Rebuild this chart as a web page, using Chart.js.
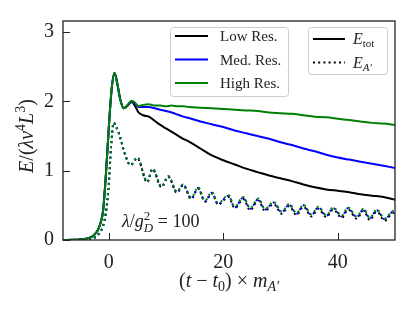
<!DOCTYPE html>
<html>
<head>
<meta charset="utf-8">
<script src="https://cdn.jsdelivr.net/npm/chart.js@4.4.0/dist/chart.umd.min.js"></script>
<style>
  html, body { margin: 0; padding: 0; background: #fff; }
  #wrap { width: 415px; height: 312px; }
</style>
</head>
<body>
<div id="wrap"><canvas id="energy-chart" width="415" height="312"></canvas></div>
<script>
// time grid for the E_tot curves
const tTot = [-8, -6, -5, -4, -3, -2.5, -2, -1.5, -1, -0.5,
    0, 0.5, 1, 1.5, 2, 2.6, 3.2, 4, 4.6, 5.2,
    6, 7, 8, 9, 10, 11, 12, 13, 14, 16,
    18, 20, 22, 24, 26, 28, 30, 32, 34, 36,
    38, 40, 42, 44, 46, 48, 50];

const lowTot = [0, 0.003, 0.008, 0.02, 0.045, 0.08, 0.13, 0.23, 0.42, 0.95,
    1.62, 2.18, 2.41, 2.25, 2.03, 1.90, 1.93, 1.99, 1.93, 1.84,
    1.80, 1.78, 1.72, 1.66, 1.61, 1.56, 1.51, 1.46, 1.42, 1.32,
    1.22, 1.15, 1.09, 1.03, 0.98, 0.93, 0.89, 0.85, 0.80, 0.76,
    0.73, 0.71, 0.69, 0.66, 0.64, 0.62, 0.58];

const medTot = [0, 0.003, 0.008, 0.02, 0.045, 0.08, 0.13, 0.23, 0.42, 0.95,
    1.62, 2.18, 2.41, 2.25, 2.03, 1.90, 1.94, 2.00, 1.96, 1.92,
    1.92, 1.92, 1.90, 1.88, 1.86, 1.84, 1.81, 1.78, 1.76, 1.71,
    1.67, 1.63, 1.58, 1.54, 1.50, 1.46, 1.41, 1.37, 1.32, 1.28,
    1.23, 1.19, 1.16, 1.13, 1.10, 1.07, 1.04];

const highTot = [0, 0.003, 0.008, 0.02, 0.045, 0.08, 0.13, 0.23, 0.42, 0.95,
    1.62, 2.18, 2.41, 2.25, 2.03, 1.90, 1.94, 2.01, 1.98, 1.93,
    1.95, 1.96, 1.94, 1.94, 1.93, 1.94, 1.93, 1.93, 1.92, 1.91,
    1.90, 1.89, 1.88, 1.87, 1.86, 1.84, 1.83, 1.82, 1.80, 1.78,
    1.77, 1.75, 1.73, 1.71, 1.69, 1.68, 1.66];

// time grid for the E_A' curves (peaks and troughs of the oscillation)
const tA = [-8, -5, -4, -3, -2.5, -2, -1.5, -1, -0.5, 0,
    0.4, 0.85, 1.3, 1.8, 2.3, 2.9, 3.8, 5.0, 6.7, 7.65,
    9.2, 10.4, 11.9, 13, 14.4, 15.6, 16.8, 18, 19.1, 20.9,
    22, 23.5, 24.7, 26.1, 27.3, 28.8, 30.2, 31.5, 32.8, 34,
    35.4, 36.6, 38, 39.2, 40.7, 41.8, 43.3, 44.5, 45.6, 46.8,
    48.2, 49.7, 50];

const lowA = [0, 0.002, 0.006, 0.02, 0.035, 0.06, 0.12, 0.2, 0.40, 0.80,
    1.35, 1.69, 1.63, 1.53, 1.39, 1.22, 1.08, 1.18, 0.83, 1.02,
    0.76, 0.91, 0.68, 0.79, 0.59, 0.74, 0.55, 0.67, 0.51, 0.62,
    0.46, 0.59, 0.43, 0.57, 0.42, 0.52, 0.38, 0.49, 0.36, 0.48,
    0.34, 0.45, 0.33, 0.44, 0.32, 0.44, 0.31, 0.42, 0.29, 0.41,
    0.28, 0.39, 0.37];

const medA = [0, 0.002, 0.006, 0.02, 0.035, 0.06, 0.12, 0.2, 0.40, 0.80,
    1.35, 1.69, 1.63, 1.53, 1.39, 1.22, 1.08, 1.19, 0.84, 1.03,
    0.77, 0.92, 0.69, 0.80, 0.60, 0.75, 0.56, 0.68, 0.52, 0.64,
    0.47, 0.61, 0.45, 0.59, 0.44, 0.54, 0.40, 0.51, 0.38, 0.50,
    0.36, 0.47, 0.35, 0.46, 0.34, 0.46, 0.33, 0.44, 0.31, 0.43,
    0.30, 0.41, 0.39];

const highA = [0, 0.002, 0.006, 0.02, 0.035, 0.06, 0.12, 0.2, 0.40, 0.80,
    1.35, 1.69, 1.63, 1.53, 1.39, 1.22, 1.08, 1.19, 0.84, 1.03,
    0.77, 0.92, 0.70, 0.80, 0.61, 0.76, 0.57, 0.69, 0.53, 0.65,
    0.48, 0.62, 0.46, 0.60, 0.45, 0.55, 0.41, 0.52, 0.39, 0.51,
    0.37, 0.48, 0.36, 0.47, 0.35, 0.47, 0.34, 0.45, 0.32, 0.44,
    0.31, 0.42, 0.40];

const xTicks = [0, 20, 40];
const yTicks = [0, 1, 2, 3];
const resLabels = ['Low Res.', 'Med. Res.', 'High Res.'];
const resColors = ['#000000', '#0000ff', '#008000'];

const SERIF = "'Liberation Serif', 'DejaVu Serif', serif";
const INK = '#222222';
const DOT = [2, 3.2];

function pts(ts, ys) {
    return ts.map((t, i) => ({ x: t, y: ys[i] }));
}

function lineSet(label, ts, ys, color, dashed, order) {
    return {
        label: label,
        data: pts(ts, ys),
        borderColor: color,
        backgroundColor: color,
        borderWidth: 2,
        borderDash: dashed ? DOT : [],
        pointRadius: 0,
        cubicInterpolationMode: 'monotone',
        fill: false,
        order: order
    };
}

// small helper for text with sub/superscripts
function fontOf(p) {
    return (p.italic ? 'italic ' : '') + p.size + 'px ' + SERIF;
}

function richWidth(ctx, parts) {
    let w = 0;
    parts.forEach(p => {
        ctx.font = fontOf(p);
        if (!p.hold) w += ctx.measureText(p.text).width + (p.dx || 0);
    });
    return w;
}

function drawRich(ctx, parts, x, y, align) {
    let cx = x;
    if (align === 'center') cx = x - richWidth(ctx, parts) / 2;
    ctx.textAlign = 'left';
    ctx.textBaseline = 'alphabetic';
    parts.forEach(p => {
        ctx.font = fontOf(p);
        ctx.fillText(p.text, cx + (p.dx || 0), y + (p.dy || 0));
        if (!p.hold) cx += ctx.measureText(p.text).width + (p.dx || 0);
    });
}

const xTitle = [
    { text: '(', size: 20 }, { text: 't', size: 20, italic: true },
    { text: ' \u2212 ', size: 20 }, { text: 't', size: 20, italic: true },
    { text: '0', size: 14, dy: 4 }, { text: ') \u00d7 ', size: 20 },
    { text: 'm', size: 20, italic: true }, { text: 'A\u2032', size: 14, italic: true, dy: 4 }
];

const yTitle = [
    { text: 'E', size: 20, italic: true }, { text: '/(', size: 20 },
    { text: '\u03bb', size: 20, italic: true }, { text: 'v', size: 20, italic: true },
    { text: '4', size: 14, dy: -8 }, { text: 'L', size: 20, italic: true },
    { text: '3', size: 14, dy: -8 }, { text: ')', size: 20 }
];

const note = [
    { text: '\u03bb', size: 18, italic: true }, { text: '/', size: 18 },
    { text: 'g', size: 18, italic: true },
    { text: 'D', size: 13, italic: true, dy: 5, hold: true },
    { text: '2', size: 13, dy: -7 },
    { text: ' = 100', size: 18, dx: 3 }
];

const frame = {
    id: 'frame',
    afterDraw(chart) {
        const ctx = chart.ctx;
        const a = chart.chartArea;
        const xs = chart.scales.x, ys = chart.scales.y;
        ctx.save();

        // inward ticks
        ctx.strokeStyle = INK;
        ctx.lineWidth = 1;
        xTicks.forEach(v => {
            const px = Math.round(xs.getPixelForValue(v)) + 0.5;
            ctx.beginPath(); ctx.moveTo(px, a.bottom); ctx.lineTo(px, a.bottom - 7); ctx.stroke();
        });
        yTicks.forEach(v => {
            const py = Math.round(ys.getPixelForValue(v)) + 0.5;
            ctx.beginPath(); ctx.moveTo(a.left, py); ctx.lineTo(a.left + 7, py); ctx.stroke();
        });

        // box around the plot
        ctx.lineWidth = 1.3;
        ctx.strokeRect(a.left, a.top, a.right - a.left, a.bottom - a.top);

        // axis titles
        ctx.fillStyle = INK;
        drawRich(ctx, xTitle, (a.left + a.right) / 2, 287, 'center');
        ctx.save();
        ctx.translate(33, 136);
        ctx.rotate(-Math.PI / 2);
        drawRich(ctx, yTitle, 0, 0, 'center');
        ctx.restore();

        // annotation
        drawRich(ctx, note, 122, 227, 'left');

        // legend frames
        ctx.fillStyle = 'rgba(255,255,255,0.85)';
        ctx.strokeStyle = '#cccccc';
        ctx.lineWidth = 1;
        ctx.beginPath(); ctx.roundRect(170.5, 27.5, 118, 69, 3); ctx.fill(); ctx.stroke();
        ctx.beginPath(); ctx.roundRect(308.5, 27.5, 79, 47, 3); ctx.fill(); ctx.stroke();

        // legend: resolutions
        const rows = [36, 59.5, 83];
        resLabels.forEach((lab, i) => {
            ctx.strokeStyle = resColors[i];
            ctx.lineWidth = 2;
            ctx.setLineDash([]);
            ctx.beginPath(); ctx.moveTo(175, rows[i]); ctx.lineTo(208, rows[i]); ctx.stroke();
            ctx.fillStyle = INK;
            drawRich(ctx, [{ text: lab, size: 15 }], 220, rows[i] + 5, 'left');
        });

        // legend: energy components
        ctx.strokeStyle = '#000';
        ctx.lineWidth = 2;
        ctx.beginPath(); ctx.moveTo(313, 39); ctx.lineTo(345, 39); ctx.stroke();
        ctx.setLineDash(DOT);
        ctx.beginPath(); ctx.moveTo(313, 62.5); ctx.lineTo(345, 62.5); ctx.stroke();
        ctx.setLineDash([]);
        ctx.fillStyle = INK;
        drawRich(ctx, [{ text: 'E', size: 16, italic: true }, { text: 'tot', size: 11, dy: 3 }], 353, 44, 'left');
        drawRich(ctx, [{ text: 'E', size: 16, italic: true }, { text: 'A\u2032', size: 11, italic: true, dy: 3 }], 353, 67.5, 'left');

        ctx.restore();
    }
};

new Chart(document.getElementById('energy-chart'), {
    type: 'line',
    data: {
        datasets: [
            lineSet('High Res. E_tot', tTot, highTot, resColors[2], false, 0),
            lineSet('Med. Res. E_tot', tTot, medTot, resColors[1], false, 1),
            lineSet('Low Res. E_tot', tTot, lowTot, resColors[0], false, 2),
            lineSet('High Res. E_A', tA, highA, resColors[2], true, 3),
            lineSet('Med. Res. E_A', tA, medA, resColors[1], true, 4),
            lineSet('Low Res. E_A', tA, lowA, resColors[0], true, 5)
        ]
    },
    options: {
        responsive: false,
        animation: false,
        devicePixelRatio: 1,
        layout: { padding: { left: 0, top: 20, right: 20, bottom: 0 } },
        plugins: {
            legend: { display: false },
            tooltip: { enabled: false }
        },
        scales: {
            x: {
                type: 'linear',
                min: -8,
                max: 50,
                grid: { display: false, drawTicks: false },
                border: { display: false },
                afterBuildTicks: s => { s.ticks = xTicks.map(v => ({ value: v })); },
                afterFit: s => { s.height = 72; },
                ticks: { color: INK, padding: 11, maxRotation: 0, font: { family: SERIF, size: 20 } }
            },
            y: {
                type: 'linear',
                min: 0,
                max: 3.16,
                grid: { display: false, drawTicks: false },
                border: { display: false },
                afterBuildTicks: s => { s.ticks = yTicks.map(v => ({ value: v })); },
                afterFit: s => { s.width = 63; },
                ticks: { color: INK, padding: 9, font: { family: SERIF, size: 20 } }
            }
        }
    },
    plugins: [frame]
});
</script>
</body>
</html>
